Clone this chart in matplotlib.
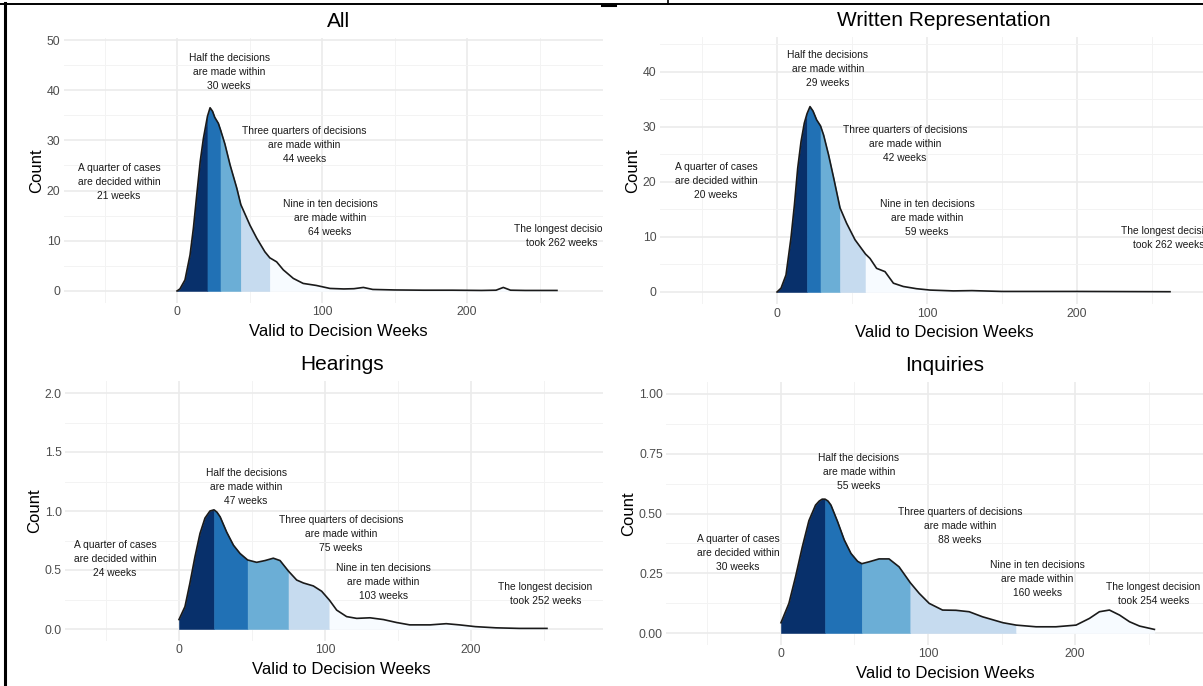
import numpy as np
import matplotlib
matplotlib.use('Agg')
import matplotlib.pyplot as plt
from matplotlib.patches import Rectangle
from matplotlib.lines import Line2D

plt.rcParams['font.family'] = ['Liberation Sans', 'DejaVu Sans']

W, H = 1203, 686

# Datos (semanas, altura de la densidad)
all_weeks = [0, 2, 5.5, 9, 11.3, 13.6, 16, 18.2, 21, 22.8, 24.5, 26, 28.5, 30, 33, 36.6, 41.2,
             44, 50.3, 55, 60.6, 64, 68.7, 73.3, 80.2, 87, 96, 105.5, 115, 122, 128.5, 135,
             150, 170, 190, 210, 220, 225, 230, 240, 262]
all_count = [0, 0.4, 2.2, 7.2, 12.5, 19.1, 25.8, 30.4, 34.8, 36.5, 35.8, 34.6, 33.4, 32.1, 29.3,
             25.1, 20.5, 17.2, 13.1, 10.5, 7.8, 6.6, 5.8, 4.2, 2.5, 1.5, 1.1, 0.5, 0.4, 0.45,
             0.7, 0.3, 0.2, 0.15, 0.15, 0.1, 0.15, 0.7, 0.15, 0.1, 0.1]
all_quantiles = [21, 30, 44, 64, 262]

written_weeks = [0, 2.7, 6, 9.3, 11.6, 13.8, 16, 18.2, 20, 22, 24, 26.4, 29, 31.1, 34.4, 37.8,
                 42, 46.4, 52, 59, 62, 66.4, 72, 77.6, 84.2, 93, 102, 117.6, 130, 150, 200, 262]
written_count = [0, 0.7, 3.1, 9.8, 15.8, 22.5, 27.3, 30.7, 32.4, 33.7, 32.9, 31.3, 30.2, 28.5,
                 24.9, 20.7, 15.3, 12.5, 9.5, 6.9, 6.1, 4.3, 3.7, 1.6, 1.0, 0.6, 0.35, 0.2, 0.25,
                 0.1, 0.1, 0.05]
written_quantiles = [20, 29, 42, 59, 262]

hearings_weeks = [0, 4.1, 7.5, 10.9, 14.4, 17.8, 21.2, 24, 26, 28.2, 32.7, 37.3, 41.8, 47, 53.2,
                  58.9, 64.6, 69.2, 75, 80.6, 85.2, 92, 97.7, 103, 108, 114.8, 121.7, 130.8,
                  140, 149, 158, 172, 183, 192, 203, 217, 233, 252]
hearings_count = [0.08, 0.19, 0.39, 0.61, 0.81, 0.94, 1.0, 1.01, 0.99, 0.95, 0.82, 0.71, 0.64,
                  0.585, 0.565, 0.58, 0.60, 0.58, 0.49, 0.415, 0.39, 0.365, 0.32, 0.245, 0.16,
                  0.105, 0.09, 0.095, 0.08, 0.055, 0.035, 0.035, 0.045, 0.035, 0.02, 0.01,
                  0.005, 0.005]
hearings_quantiles = [24, 47, 75, 103, 252]

inquiries_weeks = [0, 5.4, 9.9, 14.5, 19, 23.5, 26, 28, 30, 32, 34, 38.5, 43, 47.6, 52.1, 55,
                   60, 66.7, 73.5, 80.3, 88, 94, 100.8, 109.9, 119, 128, 137, 151, 160, 173.5,
                   187, 200.7, 209.8, 216.6, 223.4, 230.3, 237.1, 243.9, 254]
inquiries_count = [0.043, 0.124, 0.235, 0.36, 0.47, 0.535, 0.552, 0.56, 0.56, 0.552, 0.535,
                   0.466, 0.39, 0.333, 0.30, 0.29, 0.298, 0.31, 0.31, 0.277, 0.21, 0.166, 0.124,
                   0.096, 0.095, 0.089, 0.068, 0.043, 0.033, 0.026, 0.026, 0.033, 0.061, 0.089,
                   0.096, 0.075, 0.047, 0.029, 0.015]
inquiries_quantiles = [30, 55, 88, 160, 254]

colores = ['#08306B', '#2171B5', '#6BAED6', '#C6DBEF', '#F7FBFF']


def etiquetas(q):
    return ['A quarter of cases\nare decided within\n%d weeks' % q[0],
            'Half the decisions\nare made within\n%d weeks' % q[1],
            'Three quarters of decisions\nare made within\n%d weeks' % q[2],
            'Nine in ten decisions\nare made within\n%d weeks' % q[3],
            'The longest decision\ntook %d weeks' % q[4]]


def caja(left, top, right, bottom):
    # pixeles -> fraccion de figura
    return [left / W, 1 - bottom / H, (right - left) / W, (bottom - top) / H]


def dibujar_panel(ax, weeks, counts, quantiles, titulo, yticks, fmt, ylim, posiciones):
    x = np.array(weeks)
    y = np.array(counts)
    limites = [x[0]] + quantiles
    for i in range(5):
        m = (x >= limites[i]) & (x <= limites[i + 1])
        ax.fill_between(x[m], 0, y[m], facecolor=colores[i], edgecolor=colores[i], lw=0.4)
    ax.plot(x, y, color='#1a1a1a', lw=1.2, solid_joinstyle='round')

    for texto, (px, py) in zip(etiquetas(quantiles), posiciones):
        ax.text(px, py, texto, ha='center', va='center', fontsize=7.4,
                linespacing=1.5, color='#1a1a1a')

    ax.set_xlim(-78, 301)
    ax.set_ylim(*ylim)
    ax.set_xticks([0, 100, 200])
    ax.set_xticks([-50, 50, 150, 250], minor=True)
    paso = yticks[1] - yticks[0]
    ax.set_yticks(yticks, labels=[fmt % t for t in yticks])
    ax.set_yticks(np.arange(paso / 2, ylim[1], paso), minor=True)
    ax.grid(which='major', color='#EBEBEB', lw=1.2)
    ax.grid(which='minor', color='#F3F3F3', lw=0.7)
    ax.set_axisbelow(True)
    for s in ax.spines.values():
        s.set_visible(False)
    ax.tick_params(which='both', length=0, labelsize=8.8, labelcolor='#4D4D4D', pad=2.5)
    ax.set_title(titulo, fontsize=15, pad=8)
    ax.set_xlabel('Valid to Decision Weeks', fontsize=12, labelpad=4)
    ax.set_ylabel('Count', fontsize=12, labelpad=2)


fig = plt.figure(figsize=(W / 100, H / 100), dpi=100)

ax1 = fig.add_axes(caja(63.9, 38, 613.5, 303))
dibujar_panel(ax1, all_weeks, all_count, all_quantiles, 'All',
              [0, 10, 20, 30, 40, 50], '%d', (-2.4, 50.4),
              [(-40, 21.7), (36, 43.6), (88, 29.1), (105.5, 14.5), (265, 11.0)])

ax3 = fig.add_axes(caja(65.1, 381.2, 618.5, 640.8))
dibujar_panel(ax3, hearings_weeks, hearings_count, hearings_quantiles, 'Hearings',
              [0.0, 0.5, 1.0, 1.5, 2.0], '%.1f', (-0.1, 2.1),
              [(-43.8, 0.593), (46, 1.20), (111, 0.805), (140, 0.40), (251, 0.30)])

# tapa lo que sobra de los paneles de la izquierda
fig.add_artist(Rectangle((603 / W, 0), 1 - 603 / W, 1, transform=fig.transFigure,
                         facecolor='white', edgecolor='none', zorder=1))

ax2 = fig.add_axes(caja(660, 37.3, 1228.5, 304.1))
dibujar_panel(ax2, written_weeks, written_count, written_quantiles, 'Written Representation',
              [0, 10, 20, 30, 40], '%d', (-2.2, 46.3),
              [(-40.7, 20.2), (34, 40.5), (85.3, 26.9), (100, 13.5), (261, 9.9)])

ax4 = fig.add_axes(caja(666.3, 382.05, 1223.5, 644.95))
dibujar_panel(ax4, inquiries_weeks, inquiries_count, inquiries_quantiles, 'Inquiries',
              [0.0, 0.25, 0.5, 0.75, 1.0], '%.2f', (-0.05, 1.05),
              [(-29.3, 0.335), (53, 0.674), (121.8, 0.448), (174.5, 0.226), (253.4, 0.165)])

ax1.set_zorder(0)
ax3.set_zorder(0)
ax2.set_zorder(2)
ax4.set_zorder(2)

# marco negro de la captura
fig.add_artist(Line2D([0, 1], [1 - 3.5 / H, 1 - 3.5 / H], color='black', lw=1.4, zorder=5))
fig.add_artist(Line2D([4.5 / W, 4.5 / W], [0, 1 - 3 / H], color='black', lw=2.2, zorder=5))
fig.add_artist(Line2D([602 / W, 615 / W], [1 - 5 / H, 1 - 5 / H], color='black', lw=2.2, zorder=5))
fig.add_artist(Line2D([668 / W, 668 / W], [1, 1 - 4 / H], color='black', lw=1.2, zorder=5))

fig.savefig('out.png', dpi=100, facecolor='white')
